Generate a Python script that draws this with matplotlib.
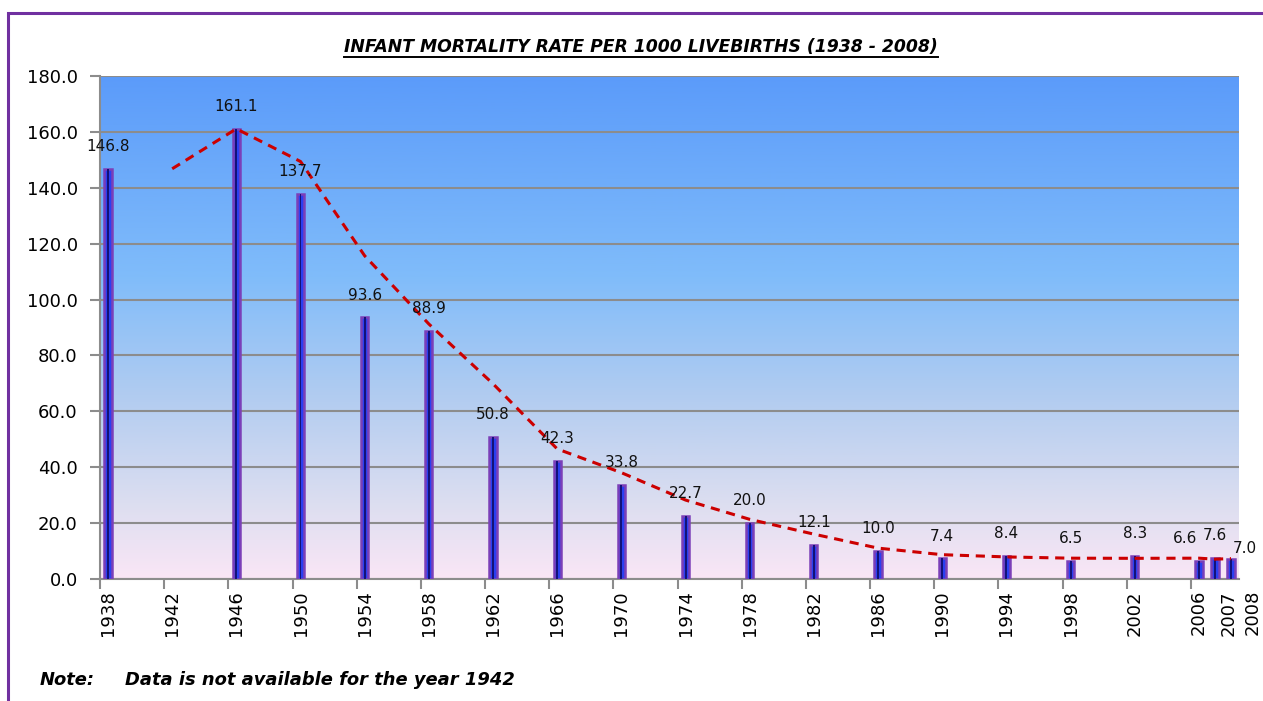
import numpy as np
import pandas as pd
import matplotlib
matplotlib.use("Agg")
import matplotlib.pyplot as plt
from matplotlib.colors import LinearSegmentedColormap
from matplotlib.patches import Rectangle
from matplotlib.lines import Line2D
import matplotlib.transforms as mtransforms

# Infant mortality rate per 1000 live births (1942 not available)
years = [1938, 1942, 1946, 1950, 1954, 1958, 1962, 1966, 1970, 1974,
         1978, 1982, 1986, 1990, 1994, 1998, 2002, 2006, 2007, 2008]
rates = [146.8, np.nan, 161.1, 137.7, 93.6, 88.9, 50.8, 42.3, 33.8, 22.7,
         20.0, 12.1, 10.0, 7.4, 8.4, 6.5, 8.3, 6.6, 7.6, 7.0]
tick_years = list(range(1938, 2007, 4))
title = "INFANT MORTALITY RATE PER 1000 LIVEBIRTHS (1938 - 2008)"
note_head = "Note:"
note_text = "Data is not available for the year 1942"


def plot_chart():
    s = pd.Series(rates, index=years)
    # 2 period moving average trendline (like the Excel trendline)
    ma = s.rolling(2, min_periods=1).mean().iloc[1:]

    fig = plt.figure(figsize=(12.63, 7.01), dpi=100)
    ax = fig.add_axes([100 / 1263, 1 - 579 / 701, 1139 / 1263, 503 / 701])

    # gradient background of the plot area
    grad = LinearSegmentedColormap.from_list(
        "bg", [(0.0, "#5b9bfa"), (0.4, "#80bcfa"), (0.65, "#b4cdf0"),
               (0.85, "#dcdef0"), (1.0, "#fae6f6")])
    ax.imshow(np.linspace(0, 1, 256).reshape(-1, 1), cmap=grad, aspect="auto",
              extent=[0, 1, 0, 1], transform=ax.transAxes, zorder=0)

    ax.set_xlim(1938, 2009)
    ax.set_ylim(0, 180)
    ax.set_yticks(np.arange(0, 181, 20))
    ax.yaxis.set_major_formatter(matplotlib.ticker.FormatStrFormatter("%.1f"))
    ax.grid(axis="y", color="#8c8c8c", linewidth=1.5, zorder=1)
    ax.set_axisbelow(False)

    x = np.array(years) + 0.5
    ax.bar(x, s.values, width=0.45, color="#2a3ff0", edgecolor="#7b3fb8",
           linewidth=1.8, zorder=3)
    ax.bar(x, s.values, width=0.12, color="#12127a", linewidth=0, zorder=4)

    ax.plot(ma.index + 0.5, ma.values, color="#cc0000", linewidth=2.2,
            linestyle=(0, (3, 2.2)), zorder=5)

    # data labels
    shifts = {2006: (-10, 0), 2007: (0, 0), 2008: (10, -8)}
    for yr, xv, v in zip(years, x, rates):
        if np.isnan(v):
            continue
        dx, dy = shifts.get(yr, (0, 0))
        ax.annotate(f"{v:.1f}", (xv, v), xytext=(dx, 16 + dy),
                    textcoords="offset points", ha="center", va="center",
                    fontsize=11, color="#111111", zorder=6)

    # axis ticks: marks every 4 years, labels centred on bars
    ax.set_xticks(tick_years)
    ax.set_xticklabels([])
    ax.set_xticks(x, [str(y) for y in years], minor=True)
    ax.tick_params(axis="x", which="major", length=7, color="#8c8c8c", width=1.5)
    ax.tick_params(axis="x", which="minor", length=0, pad=8, rotation=90,
                   labelsize=13)
    ax.tick_params(axis="y", length=7, color="#8c8c8c", width=1.5,
                   labelsize=13, pad=9)
    labels = ax.get_xticklabels(minor=True)
    for lab, yr in zip(labels, years):
        off = {2007: 14, 2008: 22}.get(yr, 0)
        if off:
            lab.set_transform(lab.get_transform() + mtransforms.ScaledTranslation(
                off / 100, 0, fig.dpi_scale_trans))

    for side in ["top", "right"]:
        ax.spines[side].set_visible(False)
    ax.spines["left"].set_color("#8c8c8c")
    ax.spines["bottom"].set_color("#8c8c8c")
    ax.spines["left"].set_linewidth(1.5)
    ax.spines["bottom"].set_linewidth(1.5)

    # title with underline
    t = fig.text(641 / 1263, 1 - 47 / 701, title, ha="center", va="center",
                 fontsize=12.4, fontweight="bold", fontstyle="italic")
    fig.canvas.draw()
    bb = t.get_window_extent().transformed(fig.transFigure.inverted())
    fig.add_artist(Line2D([bb.x0, bb.x1], [bb.y0 - 0.002, bb.y0 - 0.002],
                          color="black", linewidth=1.4))

    fig.text(40 / 1263, 1 - 680 / 701, note_head, ha="left", va="center",
             fontsize=12.9, fontweight="bold", fontstyle="italic")
    fig.text(125 / 1263, 1 - 680 / 701, note_text, ha="left", va="center",
             fontsize=12.9, fontweight="bold", fontstyle="italic")

    # purple outer border
    fig.add_artist(Rectangle((8 / 1263, -0.05), 1.1, 1.05 - 13 / 701,
                             transform=fig.transFigure, fill=False,
                             edgecolor="#7030a0", linewidth=2.2))

    fig.savefig("out.png", dpi=100)


if __name__ == "__main__":
    plot_chart()
